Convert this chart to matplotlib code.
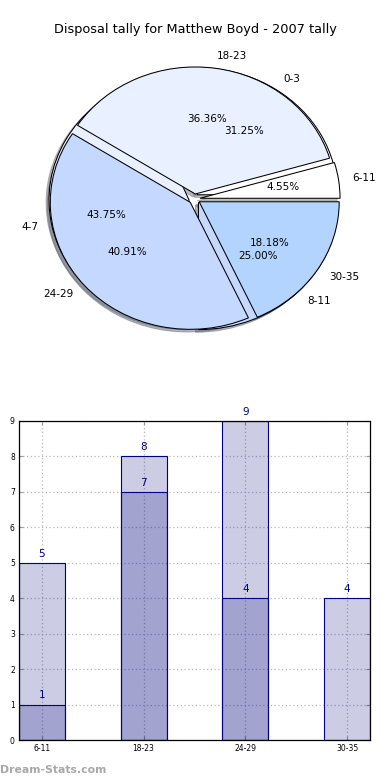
import matplotlib
matplotlib.use("Agg")
import matplotlib.pyplot as plt

# ---- data ----
title = "Disposal tally for Matthew Boyd - 2007 tally"
pie_a_labels = ["0-3", "4-7", "8-11"]
pie_a_values = [5, 7, 4]
pie_b_labels = ["6-11", "18-23", "24-29", "30-35"]
pie_b_values = [1, 8, 9, 4]

bar_categories = ["6-11", "18-23", "24-29", "30-35"]
bar_light = [5, 8, 9, 4]
bar_dark = [1, 7, 4]

palette = ["#ffffff", "#e9f0ff", "#c5d8ff", "#b2d4ff"]

fig = plt.figure(figsize=(3.9, 7.8), dpi=100)

# ---- pie ----
cx, cy = 194.5, 780 - 199
rx, ry = 140.0, 127.0
L = 1.4
ax1 = fig.add_axes([(cx - L * rx) / 390, (cy - L * ry) / 780, 2 * L * rx / 390, 2 * L * ry / 780])
e = 0.04
wp = dict(edgecolor="black", linewidth=0.75)
tp = dict(fontsize=7.5)
sh = dict(ox=-0.015, oy=-0.015, shade=0.5)
ax1.pie(pie_a_values, labels=pie_a_labels, colors=palette[:3], explode=[e] * 3,
        shadow=sh, autopct="%.2f%%", startangle=0, wedgeprops=wp, textprops=tp)
ax1.pie(pie_b_values, labels=pie_b_labels, colors=palette, explode=[e] * 4,
        shadow=sh, autopct="%.2f%%", startangle=0, wedgeprops=wp, textprops=tp)
ax1.set_aspect("auto")
ax1.set_xlim(-L, L)
ax1.set_ylim(-L, L)
ax1.axis("off")

fig.text(195 / 390, 1 - 30 / 780, title, ha="center", va="center", fontsize=9.3)

# ---- bars ----
ax2 = fig.add_axes([19 / 390, 40 / 780, 351 / 390, 319 / 780])
x_light = list(range(len(bar_light)))
x_dark = list(range(len(bar_dark)))
w = 0.45
face = (0, 0, 0.5, 0.2)
ax2.set_axisbelow(True)
ax2.grid(True, linestyle=(0, (1, 2)), color="#b8b8b8", linewidth=0.9)
ax2.bar(x_light, bar_light, width=w, color=face, edgecolor="navy", linewidth=0.8, zorder=2)
ax2.bar(x_dark, bar_dark, width=w, color=face, edgecolor="navy", linewidth=0.8, zorder=2)
for xi, v in zip(x_light, bar_light):
    ax2.text(xi, v + 0.12, str(v), ha="center", va="bottom", color="navy", fontsize=7.5)
for xi, v in zip(x_dark, bar_dark):
    ax2.text(xi, v + 0.12, str(v), ha="center", va="bottom", color="navy", fontsize=7.5)
ax2.set_xlim(-0.225, 3.225)
ax2.set_ylim(0, 9)
ax2.set_yticks(range(10))
ax2.set_xticks(x_light)
ax2.set_xticklabels(bar_categories)
ax2.tick_params(labelsize=5.5, direction="in", top=True, right=True, length=3,
                color="#999999", pad=3)
for s in ax2.spines.values():
    s.set_linewidth(0.9)
    s.set_color("black")
    s.set_zorder(5)

fig.text(0.0, 10 / 780, "Dream-Stats.com", ha="left", va="center", color="#a8a8a8",
         fontsize=7.8, fontweight="bold")

fig.savefig("out.png", dpi=100)
